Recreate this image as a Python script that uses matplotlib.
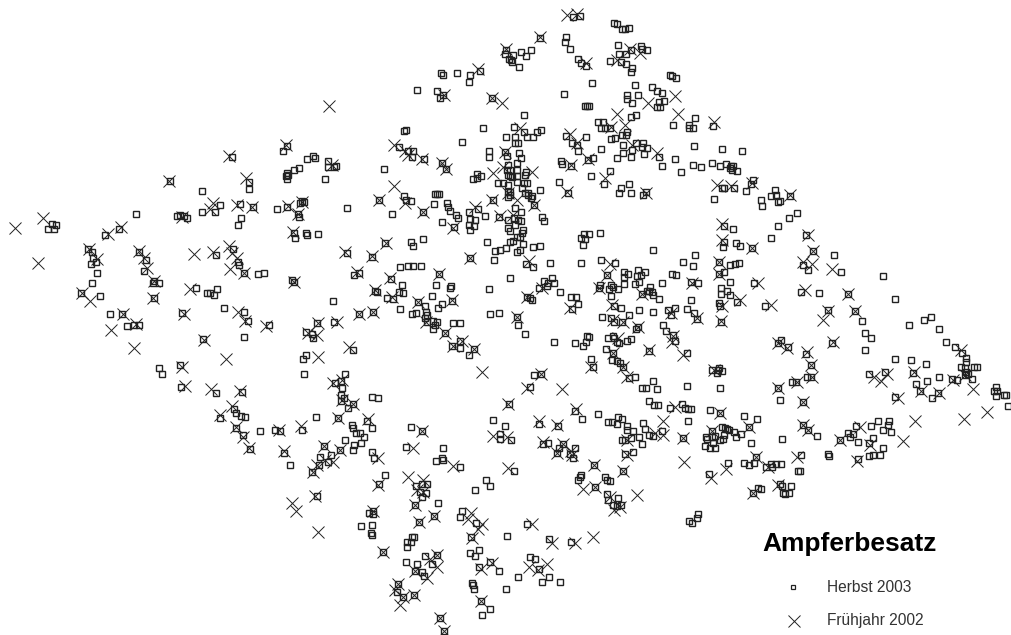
import numpy as np
import matplotlib
matplotlib.use('Agg')
import matplotlib.pyplot as plt

plt.rcParams['font.family'] = ['Liberation Sans', 'DejaVu Sans']

title = 'Ampferbesatz'
labels = ['Herbst 2003', 'Frühjahr 2002']

# positions, (east, south)
herbst_west = [(52,224),(56,225),(48,229),(54,229),(105,235),(119,229),(136,214),(88,249),(92,252),(93,258),
    (96,262),(91,264),(97,273),(92,283),(139,252),(146,260),(144,271),(154,281),(159,283),(216,255),
    (196,288),(217,289),(233,249),(238,262),(239,265),(244,273),(258,274),(177,216),(180,215),(184,216),
    (187,218),(170,181),(232,157),(249,182),(249,189),(202,191),(202,212),(215,212),(220,205),(240,204),
    (253,207),(241,218),(238,225),(81,293),(100,296),(153,283),(159,283),(154,298),(207,293),(210,293),
    (214,295),(110,314),(122,314),(127,326),(134,325),(139,325),(182,313),(224,308),(244,312),(248,321),
    (269,325),(244,337),(203,339),(159,368),(162,374),(180,365),(181,387),(216,393),(242,392),(234,409),
    (236,413),(241,416),(245,417),(220,418),(219,419),(236,428),(243,435),(250,449),(260,431),(275,430),
    (280,431),(302,430),(316,417),(284,453),(290,465),(312,472),(317,323),(306,332),(312,334),(313,338),
    (303,359),(306,355),(304,374),(294,282)]
herbst_north = [(287,146),(283,151),(307,159),(315,158),(313,156),(328,161),(328,167),(334,167),(336,166),
    (299,168),(294,170),(287,173),(286,176),(287,179),(288,175),(325,179),(277,209),(287,207),(302,201),
    (304,202),(300,203),(298,214),(299,217),(347,208),(294,233),(295,238),(306,233),(307,235),(318,234),
    (347,253),(372,257),(354,275),(359,273),(264,273),(292,280),(391,279),(402,285),(375,291),(385,243),
    (411,242),(413,246),(423,239),(400,267),(408,266),(413,266),(421,266),(439,274),(436,285),(451,286),
    (450,288),(406,130),(405,130),(404,131),(399,147),(408,151),(413,151),(412,157),(424,159),(384,169),
    (462,142),(442,163),(446,169),(379,200),(404,196),(411,201),(406,200),(435,194),(437,194),(439,194),
    (434,204),(447,203),(448,207),(450,211),(456,215),(458,218),(392,214),(423,212),(442,222),(454,227),
    (469,212),(478,209),(470,219),(475,220),(469,225),(474,226),(470,230),(471,231),(485,216),(487,242),
    (470,258),(494,260),(495,251),(500,250),(506,248),(510,242),(513,241),(517,237),(517,252),(510,278),
    (489,289),(493,200),(499,217),(473,179),(477,178),(477,174),(481,176),(498,183),(503,183)]
herbst_centre = [(505,152),(507,156),(506,137),(514,127),(483,128),(515,137),(515,143),(518,143),(519,153),
    (508,165),(510,170),(508,175),(517,163),(512,177),(517,170),(517,176),(517,182),(508,185),(508,192),
    (510,195),(515,208),(508,220),(514,218),(518,220),(515,225),(508,228),(510,231),(440,98),(437,91),
    (443,95),(444,95),(492,98),(417,90),(377,292),(387,298),(393,299),(399,292),(400,293),(402,286),
    (403,293),(333,301),(450,285),(449,289),(432,296),(418,302),(425,306),(442,304),(438,308),(452,301),
    (400,309),(412,314),(416,313),(426,312),(427,315),(425,318),(427,322),(433,321),(437,322),(433,329),
    (435,325),(453,323),(460,323),(445,333),(460,341),(452,346),(460,348),(469,355),(474,349),(490,314),
    (499,313),(517,317),(518,325),(525,334),(527,297),(359,314),(373,312),(334,322),(318,323),(353,350),
    (345,374),(341,381),(335,383),(342,388),(341,395),(344,398),(341,401),(348,408),(353,404),(372,397),
    (378,398),(338,418),(367,421),(372,428),(352,425),(353,428),(356,433),(360,433),(364,437),(361,443),
    (345,440),(324,446),(340,450),(354,445),(353,450),(320,457),(331,455),(328,462),(329,463),(319,465),
    (372,452),(374,458),(375,458),(385,475),(411,427),(422,431),(406,447),(443,448),(442,458),(443,460),
    (436,461),(460,467),(509,404),(493,420),(505,426),(500,434),(500,439),(511,440),(514,471),(486,480)]
herbst_south = [(379,484),(416,486),(422,484),(427,484),(420,492),(426,493),(422,497),(438,503),(415,505),
    (317,496),(373,511),(369,513),(373,514),(361,526),(372,525),(371,533),(372,535),(434,516),(419,522),
    (462,511),(460,517),(476,523),(471,537),(414,537),(412,537),(411,542),(407,542),(407,547),(383,552),
    (425,556),(437,555),(432,564),(406,562),(417,564),(415,571),(422,572),(424,576),(470,553),(479,550),
    (475,556),(479,567),(490,562),(499,571),(472,583),(473,585),(474,589),(481,601),(490,609),(482,615),
    (398,584),(397,592),(403,597),(414,595),(440,618),(444,631),(506,589),(518,577),(542,582),(549,577),
    (560,582),(530,557),(535,559),(539,569),(507,536),(549,539),(571,542),(527,524),(485,481),(490,486),
    (475,490),(548,443),(543,444),(563,444),(557,453),(570,454),(573,458),(575,448),(594,465),(580,477),
    (578,480),(581,475),(595,487)]
herbst_mid = [(591,359),(593,367),(613,353),(612,360),(617,361),(620,363),(623,367),(629,378),(635,377),
    (534,375),(541,374),(530,387),(642,388),(646,388),(653,381),(657,389),(687,386),(720,388),(687,353),
    (712,370),(718,370),(719,368),(722,371),(717,373),(778,388),(780,400),(792,382),(649,401),(654,405),
    (658,405),(670,408),(682,404),(685,408),(688,409),(691,409),(688,421),(710,410),(720,413),(744,416),
    (745,417),(757,419),(749,427),(575,411),(582,419),(598,414),(539,424),(558,426),(608,422),(612,422),
    (618,417),(617,424),(622,419),(627,426),(627,430),(633,431),(639,437),(643,423),(645,429),(649,435),
    (653,436),(662,431),(622,440),(625,440),(631,438),(642,444),(683,438),(706,437),(707,439),(712,431),
    (712,437),(715,436),(720,440),(723,439),(705,446),(710,448),(715,448),(713,443),(722,427),(725,428),
    (727,429),(729,430),(734,432),(736,437),(741,434),(724,435),(751,443),(782,439),(542,445),(548,443),
    (557,454),(559,448),(575,448),(570,455),(573,458),(633,452),(625,454),(595,465),(623,471),(728,463),
    (756,457),(744,463),(749,465),(754,463),(766,467),(771,464),(772,467),(776,464),(781,464),(798,471),
    (709,474),(595,487),(605,477),(607,480),(610,481),(607,494),(608,500),(618,498),(613,505),(617,506),
    (621,505),(780,484),(782,486),(791,486),(783,493),(785,494),(789,493),(758,488),(761,489),(753,493),
    (698,514),(697,518),(689,521),(692,523)]
herbst_upper = [(619,193),(631,193),(643,195),(646,192),(714,199),(761,200),(771,196),(762,206),(778,202),
    (724,226),(733,229),(778,226),(724,242),(723,247),(736,243),(740,246),(752,248),(771,238),(584,234),
    (589,234),(600,233),(581,238),(585,239),(583,245),(653,250),(695,255),(683,262),(693,266),(550,263),
    (581,263),(601,260),(615,263),(607,275),(624,272),(628,274),(624,277),(638,270),(645,272),(637,276),
    (641,275),(639,282),(635,284),(624,284),(672,274),(676,275),(691,282),(698,283),(719,262),(730,265),
    (735,264),(739,263),(724,272),(719,274),(730,282),(754,283),(721,288),(727,291),(721,294),(730,295),
    (737,302),(719,303),(720,306),(765,306),(721,322),(662,283),(691,300),(611,285),(613,287),(609,289),
    (618,289),(600,285),(599,288),(611,296),(647,291),(650,287),(649,291),(652,292),(653,295),(642,294),
    (659,299),(560,292),(552,278),(554,283),(544,281),(548,283),(547,286),(539,288),(530,298),(532,300),
    (571,297),(576,297),(578,304),(572,309),(614,306),(621,308),(602,317),(639,310),(653,312),(611,318),
    (614,322),(622,322),(629,315),(638,327),(636,329),(668,310),(675,308),(671,315),(687,309),(694,313),
    (697,319),(663,325),(666,331),(673,335),(675,341),(525,334),(554,342),(575,343),(583,346),(586,342),
    (587,336),(589,337),(608,338),(613,336),(614,338),(617,342),(619,343),(627,341),(631,339),(606,349),
    (649,351),(778,343),(521,212),(521,221),(542,217),(544,221),(523,230),(522,233),(520,237),(523,244),
    (520,250),(533,247),(540,246),(526,264),(533,267),(534,205),(528,195),(531,198),(525,193),(540,190),(568,193)]
herbst_top = [(573,17),(580,16),(614,23),(617,24),(622,29),(625,29),(629,28),(566,37),(565,42),(570,49),
    (540,38),(506,50),(505,54),(513,55),(511,60),(509,59),(512,62),(513,61),(521,52),(526,56),(531,50),
    (519,67),(618,45),(619,54),(626,54),(631,50),(641,46),(642,49),(647,50),(610,61),(621,62),(626,64),
    (632,68),(631,72),(578,59),(581,63),(586,66),(457,73),(441,73),(443,75),(480,71),(470,75),(469,82),
    (592,83),(564,94),(587,106),(585,106),(589,106),(635,85),(636,86),(670,75),(672,76),(676,78),(652,87),
    (657,91),(662,93),(638,95),(627,95),(627,99),(632,103),(659,102),(664,101),(657,107),(660,107),(695,118),
    (673,125),(689,125),(689,128),(693,128),(713,126),(636,115),(631,117),(598,122),(603,122),(601,128),
    (605,128),(610,128),(627,132),(626,135),(622,135),(611,139),(615,138),(566,136),(567,137),(586,137),
    (572,143),(577,145),(578,151),(601,149),(623,145),(636,143),(643,143),(647,148),(632,150),(642,147),
    (623,153),(631,157),(617,158),(644,154),(659,157),(694,146),(675,159),(662,166),(693,165),(701,167),
    (712,163),(681,172),(682,173),(720,166),(561,161),(562,164),(571,166),(588,160),(593,158),(610,171),
    (591,176),(604,184),(559,182),(621,188),(629,184),(524,115),(514,128),(524,132),(527,137),(533,137),
    (537,132),(541,130),(507,137),(515,144),(518,144),(520,153),(521,158),(489,151),(489,157),(480,177),
    (507,170),(510,176),(518,170),(526,172),(525,175),(518,182),(527,183),(524,183),(522,188),(528,193),
    (532,196),(540,189),(510,192),(508,197)]
herbst_east = [(722,149),(742,151),(726,164),(731,166),(733,166),(732,170),(737,171),(730,168),(722,188),
    (724,188),(734,188),(753,180),(754,179),(751,184),(746,191),(775,190),(776,195),(780,201),(790,196),
    (797,213),(789,218),(778,226),(771,238),(732,229),(736,244),(740,246),(751,248),(806,235),(813,251),
    (834,255),(803,265),(808,270),(841,272),(883,276),(895,299),(801,292),(819,293),(848,294),(828,310),
    (855,311),(862,321),(931,317),(924,320),(865,333),(871,338),(865,350),(832,343),(781,340),(788,347),
    (806,354),(811,365),(807,377),(811,377),(796,382),(803,402),(909,325),(930,317),(939,329),(946,342),
    (955,347),(962,353),(966,358),(966,362),(961,367),(974,367),(977,367),(965,368),(966,372),(968,374),
    (965,375),(972,379),(895,359),(911,360),(926,364),(913,373),(939,377),(927,381),(952,379),(957,380),
    (869,374),(885,372),(916,384),(920,391),(895,397),(932,398),(938,393),(996,387),(994,391),(997,391),
    (996,396),(1004,395),(1006,395),(1008,406),(878,421),(871,426),(889,421),(888,425),(883,430),(891,432),
    (856,426),(848,433),(853,434),(850,437),(873,438),(869,443),(858,442),(840,440),(883,448),(880,455),
    (873,455),(869,456),(858,459),(828,454),(829,456),(803,425),(808,430),(817,436),(801,455),(800,471)]

fruehjahr_west = [(15,228),(43,218),(38,263),(108,234),(121,227),(89,249),(97,259),(82,293),(139,251),(144,258),
    (147,268),(154,281),(194,254),(213,252),(190,289),(229,246),(232,253),(237,258),(230,269),(244,273),
    (182,217),(169,181),(229,156),(246,178),(213,203),(210,209),(237,205),(252,207),(90,301),(153,298),
    (156,282),(192,291),(123,314),(136,324),(111,330),(134,348),(184,314),(238,312),(245,321),(266,326),
    (204,340),(226,359),(182,367),(185,386),(211,389),(240,391),(232,406),(220,415),(236,427),(243,437),
    (249,448),(279,430),(301,426),(284,451),(313,472),(308,333),(317,335),(318,357),(294,282)]
fruehjahr_north = [(329,106),(286,145),(332,165),(288,206),(302,202),(298,214),(293,232),(345,252),(372,256),
    (357,272),(294,281),(390,278),(375,290),(386,243),(439,274),(394,145),(405,151),(408,155),(422,159),
    (442,163),(446,169),(394,186),(379,200),(405,203),(423,212),(453,228),(475,207),(470,258),(493,173),
    (492,200),(500,216),(505,152),(503,167),(508,193),(517,200),(513,215),(444,95),(492,98),(502,103)]
fruehjahr_centre = [(374,292),(392,297),(418,302),(452,300),(426,322),(445,333),(462,341),(453,346),(474,349),
    (482,372),(517,317),(527,297),(359,314),(373,312),(337,322),(318,323),(349,347),(333,383),(342,380),
    (342,400),(353,404),(338,418),(368,419),(324,446),(340,450),(333,462),(325,460),(317,465),(378,458),
    (422,431),(413,448),(453,466),(408,477),(423,480),(508,404),(493,436),(507,437),(508,468),(527,388)]
fruehjahr_south = [(408,478),(378,485),(424,482),(417,490),(423,492),(415,505),(292,503),(296,511),(315,496),
    (318,532),(373,511),(434,516),(419,522),(471,513),(468,519),(482,524),(478,529),(472,538),(383,552),
    (437,555),(430,559),(437,567),(415,571),(427,578),(481,569),(492,563),(398,584),(395,590),(403,597),
    (414,595),(400,605),(440,618),(444,631),(481,601),(529,567),(538,570),(547,564),(552,543),(575,543),
    (593,537),(532,524),(563,444),(557,453),(571,451),(594,465),(583,489),(595,487),(596,488)]
fruehjahr_mid = [(591,367),(613,353),(623,367),(627,377),(541,374),(528,388),(562,389),(683,355),(714,370),
    (778,388),(797,382),(675,407),(720,413),(749,427),(576,409),(539,421),(557,425),(655,433),(663,421),
    (663,435),(627,440),(683,438),(712,431),(543,442),(563,443),(558,452),(572,455),(627,455),(595,465),
    (623,471),(684,462),(726,469),(756,457),(768,467),(797,457),(711,478),(637,495),(610,497),(614,510),
    (620,507),(778,485),(753,493)]
fruehjahr_upper = [(646,193),(722,224),(722,240),(752,248),(610,264),(607,275),(692,283),(719,262),(719,274),
    (758,283),(740,300),(722,306),(771,305),(721,321),(599,288),(642,294),(542,288),(546,288),(527,297),
    (570,308),(612,305),(613,320),(623,322),(638,327),(671,313),(697,318),(673,336),(672,342),(618,338),
    (649,350),(778,343),(529,261),(534,205),(567,192)]
fruehjahr_top = [(567,15),(577,14),(540,37),(506,49),(630,49),(640,53),(617,60),(586,63),(478,69),(648,103),
    (675,96),(678,114),(714,122),(617,114),(625,125),(611,127),(570,134),(577,143),(632,145),(657,153),
    (571,165),(588,159),(605,178),(567,190),(644,193),(717,185),(520,128),(532,172),(508,190)]
fruehjahr_east = [(720,185),(731,186),(752,183),(790,195),(722,225),(722,241),(751,248),(808,235),(813,251),
    (803,262),(812,264),(832,269),(805,290),(848,294),(828,311),(855,311),(823,320),(757,282),(739,301),
    (769,304),(720,304),(720,275),(720,319),(822,322),(833,342),(781,341),(787,348),(807,352),(811,365),
    (812,377),(796,382),(803,402),(961,350),(965,375),(973,389),(914,372),(953,380),(874,377),(881,381),
    (887,374),(921,391),(898,398),(939,393),(987,412),(964,419),(915,421),(903,441),(860,427),(870,445),
    (840,440),(857,461),(803,425),(808,430),(798,458)]


def drop_repeats(points, radius):
    '''the regions were read with some overlap, keep one of each near pair'''
    kept = []
    for p in points:
        if all((p[0]-q[0])**2 + (p[1]-q[1])**2 > radius**2 for q in kept):
            kept.append(p)
    return np.array(kept)


herbst = drop_repeats(herbst_west + herbst_north + herbst_centre + herbst_south
                      + herbst_mid + herbst_upper + herbst_top + herbst_east, 1.5)
fruehjahr = drop_repeats(fruehjahr_west + fruehjahr_north + fruehjahr_centre + fruehjahr_south
                         + fruehjahr_mid + fruehjahr_upper + fruehjahr_top + fruehjahr_east, 4)

fig = plt.figure(figsize=(10.12, 6.35), dpi=100)
ax = fig.add_axes([0, 0, 1, 1])
ax.set_xlim(0, 1012)
ax.set_ylim(635, 0)
ax.axis('off')

# crosses first, squares sit on top
ax.plot(fruehjahr[:, 0], fruehjahr[:, 1], ls='none', marker='x', ms=8.5, mew=0.7, color='#222222')
ax.plot(herbst[:, 0], herbst[:, 1], ls='none', marker='s', ms=4.0, mew=1.0, mfc='none', mec='#222222')

# legend is placed by hand like in the map layout
ax.text(762, 544, title, fontsize=19, fontweight='bold', va='center', ha='left', color='black')
ax.plot([793], [587], ls='none', marker='s', ms=3.4, mew=0.9, mfc='none', mec='#222222')
ax.plot([794], [621], ls='none', marker='x', ms=8.5, mew=0.7, color='#222222')
ax.text(827, 587, labels[0], fontsize=11.2, va='center', ha='left', color='#333333')
ax.text(827, 621, labels[1], fontsize=11.2, va='center', ha='left', color='#333333')

fig.savefig('out.png', dpi=100)
